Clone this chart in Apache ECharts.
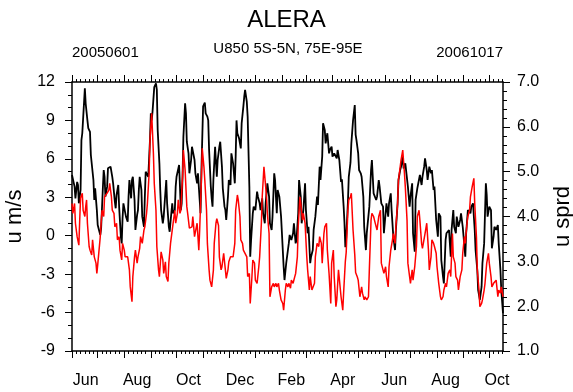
<!DOCTYPE html>
<html><head><meta charset="utf-8">
<script src="https://cdn.jsdelivr.net/npm/echarts@6/dist/echarts.min.js"></script>
<style>html,body{margin:0;padding:0;background:#fff}#c{width:573px;height:392px}</style>
</head><body><div id="c"></div>
<script>
// ---- texts ----
const mainTitle = 'ALERA';
const leftSub = '20050601';
const centerSub = 'U850 5S-5N, 75E-95E';
const rightSub = '20061017';
const leftAxisName = 'u m/s';
const rightAxisName = 'u sprd';
const monthNames = ['Jan','Feb','Mar','Apr','May','Jun','Jul','Aug','Sep','Oct','Nov','Dec'];
// ---- axes ----
const startUTC = Date.UTC(2005, 5, 1);
const endUTC = Date.UTC(2006, 9, 17);
const labelEvery = 60, labelOffset = 16; // month labels every 60 days
const uMin = -9, uMax = 12, uStep = 3;
const sMin = 1, sMax = 7, sStep = 1;
// ---- data: [day since 2005-06-01, value] ----
const uData = [[0,4.74],[2,4.6],[3,3.83],[4,2.92],[6,4.2],[7,3.96],[8,2.53],[10,3.57],[11,7.47],[12,8.0],[14,10.34],[15,11.5],[16,10.3],[18,9.0],[19,8.4],[21,8.1],[22,6.3],[23,6.17],[25,4.35],[26,2.8],[27,3.7],[29,2.0],[30,0.84],[32,0.7],[33,0.06],[34,0.58],[36,3.7],[37,5.13],[38,4.6],[39,3.05],[41,3.83],[42,5.26],[44,5.13],[45,5.39],[47,4.6],[48,4.09],[50,2.66],[51,2.14],[52,3.18],[54,3.96],[55,2.27],[56,1.1],[57,-0.08],[58,-0.6],[59,1.36],[60,2.53],[62,2.66],[63,1.49],[65,1.1],[66,3.05],[67,4.35],[69,2.92],[70,4.35],[71,4.6],[73,2.79],[74,0.45],[76,1.62],[77,2.0],[78,3.57],[79,4.6],[81,3.57],[82,1.49],[84,0.7],[85,3.05],[86,5.0],[88,5.13],[89,4.6],[91,7.47],[92,9.55],[93,9.0],[94,9.7],[96,11.6],[98,11.9],[99,11.4],[100,8.25],[102,5.65],[103,3.57],[104,2.0],[106,0.97],[107,1.49],[109,1.49],[110,4.35],[111,2.53],[113,0.7],[114,0.31],[115,1.1],[117,2.53],[118,1.75],[120,2.0],[121,3.83],[122,4.6],[123,4.48],[125,5.52],[126,3.83],[127,2.0],[128,2.53],[129,4.6],[130,7.73],[132,10.34],[133,9.55],[134,7.34],[136,6.43],[137,4.87],[139,5.91],[140,6.95],[142,6.82],[143,5.91],[144,4.87],[146,4.09],[147,4.87],[149,2.79],[150,1.75],[151,5.0],[153,10.1],[155,10.4],[156,9.55],[158,9.3],[159,9.0],[160,6.69],[162,3.83],[163,2.92],[164,2.27],[165,4.35],[167,6.95],[169,4.6],[170,5.91],[172,6.95],[173,7.34],[175,5.39],[176,3.7],[178,2.27],[179,2.0],[180,1.23],[182,3.05],[183,4.35],[185,3.96],[186,6.43],[188,5.65],[190,4.09],[191,6.17],[192,9.0],[193,8.0],[195,7.6],[197,6.82],[198,8.78],[200,10.1],[201,10.85],[202,11.38],[204,10.46],[205,9.3],[207,3.83],[208,-1.64],[209,-0.33],[211,1.75],[212,2.27],[214,2.0],[216,3.44],[217,3.05],[219,2.53],[220,2.0],[222,2.92],[223,1.75],[225,0.97],[226,2.53],[228,4.09],[230,3.05],[231,0.97],[233,0.45],[234,1.49],[236,4.87],[237,4.35],[239,1.75],[240,3.57],[242,3.05],[244,1.49],[245,0.19],[247,-2.42],[248,-3.46],[250,-2.15],[251,-2.29],[253,-0.6],[254,0.06],[256,-0.33],[258,0.19],[259,0.97],[261,-0.6],[262,-0.33],[264,1.75],[265,4.35],[267,3.05],[268,0.97],[270,2.0],[272,4.09],[273,2.0],[275,0.19],[276,0.7],[278,-2.15],[279,-1.64],[281,-1.12],[282,0.45],[284,1.49],[286,3.05],[287,2.4],[289,5.39],[290,4.35],[292,6.17],[293,8.78],[295,8.25],[296,7.21],[298,8.0],[300,6.43],[301,6.69],[303,6.95],[304,6.17],[306,6.43],[307,6.3],[309,6.04],[310,6.69],[312,5.91],[314,4.2],[315,4.4],[317,2.3],[318,1.0],[319,-0.9],[320,-0.2],[322,2.6],[323,4.6],[325,5.7],[326,7.2],[328,9.0],[330,10.2],[331,7.9],[332,7.47],[334,6.43],[335,5.13],[337,4.87],[338,4.6],[340,3.05],[341,0.7],[343,-1.12],[344,0.19],[346,0.31],[347,2.27],[349,5.13],[350,5.91],[352,3.31],[353,3.18],[355,2.79],[356,3.05],[358,4.35],[359,3.83],[361,2.53],[363,2.27],[364,0.19],[366,1.75],[367,2.53],[369,1.49],[370,2.53],[372,3.31],[373,2.0],[375,-0.08],[377,-1.12],[378,0.45],[380,2.53],[381,4.35],[383,5.13],[384,5.39],[386,6.17],[387,5.26],[389,5.65],[391,5.52],[392,3.83],[394,2.27],[395,3.05],[397,4.09],[398,0.19],[400,-1.25],[401,2.79],[403,3.7],[405,3.83],[406,4.74],[408,3.96],[409,4.6],[411,5.39],[412,6.04],[414,5.13],[415,4.35],[417,5.39],[419,4.87],[420,5.13],[422,3.57],[423,3.83],[425,1.23],[427,-0.08],[428,1.75],[430,1.49],[431,-1.9],[433,-3.2],[434,-3.72],[436,-0.33],[437,0.19],[439,0.31],[440,0.45],[442,-1.64],[443,0.45],[445,2.0],[446,0.7],[448,0.19],[449,1.49],[451,0.7],[453,1.23],[454,1.75],[456,0.7],[457,-0.08],[459,-1.64],[460,0.19],[462,2.0],[463,2.14],[465,1.75],[466,2.27],[468,2.53],[470,0.45],[471,-1.12],[473,-2.68],[474,-4.24],[476,-5.0],[478,-3.98],[479,-2.15],[481,-0.6],[483,4.1],[484,3.18],[485,1.49],[487,2.27],[489,2.0],[490,-0.98],[492,-0.08],[493,0.7],[495,0.45],[497,0.84],[498,-0.6],[500,-2.68],[501,-4.24],[503,-6.05]];
const sprdData = [[0,4.29],[1,4.07],[3,4.29],[4,3.85],[6,3.55],[8,3.36],[9,3.92],[10,4.41],[12,4.52],[13,4.14],[15,4.0],[16,4.22],[17,4.37],[18,3.85],[20,3.33],[21,3.25],[23,3.14],[24,3.48],[26,3.1],[28,2.96],[29,2.73],[30,2.92],[32,2.96],[33,3.55],[35,4.14],[37,4.0],[38,4.44],[40,4.41],[41,4.52],[43,4.59],[44,4.74],[46,4.44],[47,4.14],[49,4.07],[50,3.77],[52,3.85],[53,3.48],[55,3.55],[56,3.25],[58,3.03],[59,3.4],[61,3.25],[62,3.1],[64,3.07],[65,3.1],[67,2.81],[68,2.43],[70,2.1],[71,2.66],[73,3.1],[74,3.25],[76,2.96],[77,3.1],[79,3.29],[80,3.55],[82,3.4],[84,3.7],[85,3.77],[87,4.07],[88,4.29],[90,4.96],[91,5.71],[92,5.74],[93,6.3],[95,5.41],[96,4.74],[98,4.14],[99,3.33],[101,2.81],[102,2.66],[104,3.21],[106,3.03],[107,2.73],[109,2.99],[110,2.66],[112,2.55],[113,2.96],[115,3.4],[116,3.55],[118,3.85],[120,4.14],[121,3.85],[123,4.07],[124,4.37],[126,4.07],[127,4.14],[129,4.89],[130,5.48],[132,5.04],[134,4.22],[135,4.07],[137,3.74],[138,3.74],[140,3.77],[141,4.0],[143,3.55],[144,3.51],[146,3.85],[148,3.25],[149,3.7],[151,4.81],[152,5.52],[153,5.55],[154,5.1],[155,4.81],[157,4.14],[158,3.4],[160,2.81],[161,2.58],[163,2.43],[165,2.8],[166,3.4],[168,3.85],[169,3.95],[171,3.8],[172,3.1],[174,2.81],[175,2.88],[177,3.18],[179,2.81],[180,2.62],[182,2.81],[183,2.99],[185,3.1],[186,3.07],[188,3.1],[190,3.4],[191,4.14],[193,4.48],[194,4.37],[196,4.0],[197,3.48],[199,3.4],[200,3.25],[202,3.25],[204,3.1],[205,2.66],[207,2.73],[208,2.06],[210,2.66],[211,3.03],[213,2.96],[214,2.58],[216,2.51],[218,2.88],[219,3.1],[221,3.85],[222,4.44],[224,5.11],[225,4.89],[227,4.44],[228,4.07],[230,3.62],[231,2.21],[233,2.43],[235,2.51],[236,2.43],[238,2.51],[239,2.43],[241,2.51],[242,2.36],[244,2.14],[246,2.06],[247,1.91],[249,2.36],[250,2.51],[252,2.43],[253,2.51],[255,2.4],[256,2.58],[258,2.51],[260,2.66],[261,2.73],[263,3.1],[264,3.77],[266,4.44],[267,4.29],[269,3.92],[270,4.07],[272,3.85],[274,3.1],[275,2.81],[277,2.36],[278,2.66],[280,2.36],[281,2.36],[283,2.51],[284,3.1],[286,3.4],[288,3.33],[289,3.55],[291,3.4],[292,2.96],[294,3.62],[295,3.77],[297,3.85],[298,3.25],[300,2.73],[302,2.06],[303,2.96],[305,3.25],[306,2.66],[308,1.99],[309,2.14],[311,2.81],[312,2.77],[314,2.21],[316,1.91],[317,2.3],[319,3.0],[320,3.2],[322,4.14],[323,4.37],[325,4.44],[326,4.52],[328,3.7],[330,3.15],[331,2.75],[333,2.65],[334,2.58],[336,2.21],[338,2.43],[339,2.29],[341,2.14],[342,2.21],[344,2.14],[346,2.21],[347,2.81],[349,3.92],[350,4.07],[352,4.0],[353,3.92],[355,3.77],[356,3.7],[358,4.0],[360,4.14],[361,2.96],[363,2.96],[364,2.73],[366,2.88],[367,2.66],[369,2.43],[370,2.88],[372,3.25],[374,3.48],[375,3.62],[377,3.4],[378,3.77],[380,4.29],[381,4.81],[383,5.11],[384,5.26],[386,5.48],[388,4.96],[389,4.66],[391,3.92],[392,2.96],[394,2.66],[395,2.51],[397,2.81],[398,2.58],[400,2.88],[402,3.33],[403,4.0],[405,4.14],[406,3.92],[408,3.4],[409,3.29],[411,3.33],[412,3.62],[414,3.85],[416,3.25],[417,2.81],[419,3.1],[420,3.48],[422,3.4],[423,3.33],[425,3.18],[426,2.88],[428,2.51],[430,2.21],[431,2.14],[433,2.21],[434,2.36],[436,2.51],[437,2.43],[439,2.73],[441,2.81],[442,2.66],[444,3.62],[445,3.1],[447,2.96],[448,2.66],[450,2.58],[451,2.36],[453,2.66],[455,2.81],[456,3.18],[458,3.55],[459,3.4],[461,3.85],[462,4.0],[464,4.14],[465,4.44],[467,4.66],[469,4.85],[470,4.29],[472,3.55],[473,2.81],[475,2.36],[476,1.99],[478,2.06],[479,2.14],[481,2.36],[482,2.51],[484,2.96],[486,3.18],[487,2.96],[489,2.66],[490,2.43],[492,2.51],[493,2.51],[495,2.58],[497,2.21],[498,2.36],[500,2.29],[501,2.43],[503,2.21]];

// ---- build ----
const days = [];
for (let t = startUTC; t <= endUTC; t += 86400000) days.push(new Date(t).toISOString().slice(0, 10));
const dom = v => parseInt(v.slice(8), 10);
const mon = v => parseInt(v.slice(5, 7), 10);
const isMajor = (i, v) => dom(v) === 1;
const isMinor = (i, v) => [6, 11, 16, 21, 26].indexOf(dom(v)) >= 0;
const isLabel = (i, v) => i % labelEvery === labelOffset;
const FONT = 'Liberation Sans, Arial, Helvetica, sans-serif';
const black = '#000';

function xAx(pos, tickFn, len, withLabel, withLine) {
  return {
    type: 'category', data: days, boundaryGap: false, position: pos, gridIndex: 0,
    axisLine: { show: withLine, onZero: false, lineStyle: { color: black, width: 1.5 } },
    axisTick: { show: true, inside: false, interval: tickFn, length: len, lineStyle: { color: black, width: 1 } },
    axisLabel: withLabel ? { show: true, interval: isLabel, formatter: v => monthNames[mon(v) - 1], color: black, fontFamily: FONT, fontSize: 16, margin: 22 } : { show: false },
    splitLine: { show: false }, axisPointer: { show: false }
  };
}

const chart = echarts.init(document.getElementById('c'), null, { renderer: 'canvas' });
chart.setOption({
  animation: false,
  backgroundColor: '#fff',
  grid: { left: 72, right: 70, top: 82, bottom: 41, containLabel: false, outerBoundsMode: 'none' },
  graphic: [
    { type: 'text', left: 'center', top: 8, style: { text: mainTitle, font: '24px ' + FONT, fill: black } },
    { type: 'text', x: 72, y: 53, style: { text: leftSub, font: '15px ' + FONT, fill: black, textAlign: 'left', textVerticalAlign: 'middle' } },
    { type: 'text', x: 288, y: 49, style: { text: centerSub, font: '15px ' + FONT, fill: black, textAlign: 'center', textVerticalAlign: 'middle' } },
    { type: 'text', x: 503, y: 53, style: { text: rightSub, font: '15px ' + FONT, fill: black, textAlign: 'right', textVerticalAlign: 'middle' } }
  ],
  xAxis: [
    xAx('bottom', isMajor, 7, true, true),
    xAx('bottom', isMinor, 3, false, false),
    xAx('top', isMajor, 7, false, true),
    xAx('top', isMinor, 3, false, false)
  ],
  yAxis: [
    {
      type: 'value', position: 'left', min: uMin, max: uMax, interval: uStep,
      name: leftAxisName, nameLocation: 'middle', nameRotate: 90, nameGap: 39,
      nameTextStyle: { color: black, fontFamily: FONT, fontSize: 22 },
      axisLine: { show: true, lineStyle: { color: black, width: 1.5 } },
      axisTick: { show: true, inside: false, length: 7, lineStyle: { color: black } },
      minorTick: { show: true, splitNumber: 3, length: 4, lineStyle: { color: black } },
      axisLabel: { color: black, fontFamily: FONT, fontSize: 16, margin: 17 },
      splitLine: { show: false }
    },
    {
      type: 'value', position: 'right', min: sMin, max: sMax, interval: sStep,
      name: rightAxisName, nameLocation: 'middle', nameRotate: 90, nameGap: 49,
      nameTextStyle: { color: black, fontFamily: FONT, fontSize: 22 },
      axisLine: { show: true, lineStyle: { color: black, width: 1.5 } },
      axisTick: { show: true, inside: false, length: 7, lineStyle: { color: black } },
      minorTick: { show: true, splitNumber: 5, length: 4, lineStyle: { color: black } },
      axisLabel: { color: black, fontFamily: FONT, fontSize: 16, margin: 14, formatter: v => v.toFixed(1) },
      splitLine: { show: false }
    }
  ],
  series: [
    { type: 'line', name: 'u', xAxisIndex: 0, yAxisIndex: 0, data: uData, showSymbol: false, symbol: 'none', lineStyle: { color: '#000', width: 1.8 }, z: 2 },
    { type: 'line', name: 'spread', xAxisIndex: 0, yAxisIndex: 1, data: sprdData, showSymbol: false, symbol: 'none', lineStyle: { color: '#ff0000', width: 1.5 }, z: 3 }
  ]
});
</script></body></html>
